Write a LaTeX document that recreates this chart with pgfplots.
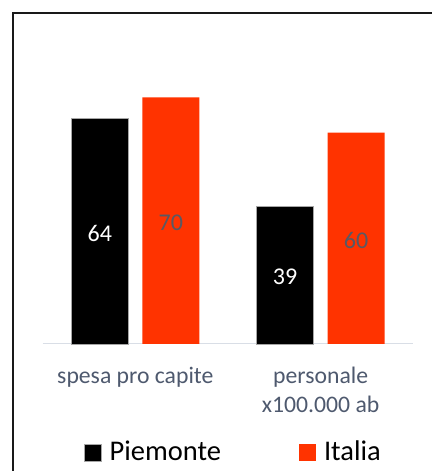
\documentclass[border=0pt]{standalone}
\usepackage{fontspec}
\setmainfont{Carlito}
\usepackage{pgfplots}
\pgfplotsset{compat=1.18}
\definecolor{itared}{RGB}{255,51,0}
\definecolor{catgray}{RGB}{78,89,110}
\definecolor{lblgray}{RGB}{89,89,99}
\definecolor{axgray}{RGB}{217,222,230}
\begin{document}
\begin{tikzpicture}
\useasboundingbox (-42.7pt,-127.2pt) rectangle (388.3pt,343.8pt);
\draw[line width=1.8pt, black!90] (-29.6pt,-140pt) -- (-29.6pt,331pt) -- (400pt,331pt);
\begin{axis}[
  scale only axis,
  width=370.6pt, height=281.6pt,
  xmin=-0.5, xmax=1.5, ymin=0, ymax=80,
  enlargelimits=false,
  ybar=14pt, bar width=57pt,
  hide y axis,
  axis x line*=bottom,
  x axis line style={draw=axgray, line width=1.3pt},
  xtick={0,1}, xtick style={draw=none},
  xticklabels={{\strut spesa pro capite},{\strut personale\\x100.000 ab}},
  xticklabel style={align=center, inner sep=0pt, yshift=-15pt, text=catgray, font=\fontsize{23.7}{29}\selectfont},
  nodes near coords,
  /pgf/number format/assume math mode=true,
  visualization depends on={y \as \rawy},
  every node near coord/.append style={anchor=center, font=\fontsize{24}{29}\selectfont, yshift=-2pt, shift={(axis direction cs:0,-\rawy/2)}},
  legend columns=2,
  legend style={draw=none, at={(0.5,0)}, anchor=center, xshift=4.5pt, yshift=-108pt,
    font=\fontsize{28.5}{34}\selectfont, nodes={inner sep=0pt},
    /tikz/every odd column/.append style={column sep=8.5pt},
    /tikz/every even column/.append style={column sep=78pt}},
  legend image code/.code={\fill[#1] (0pt,-9pt) rectangle (16.5pt,7.5pt);},
  clip=false,
]
\addplot[fill=black, draw=gray!70, line width=0.5pt, every node near coord/.append style={text=white}] coordinates {(0,64) (1,39)};
\addplot[fill=itared, draw=none, every node near coord/.append style={text=lblgray}] coordinates {(0,70) (1,60)};
\legend{Piemonte, Italia}
\end{axis}
\end{tikzpicture}
\end{document}
